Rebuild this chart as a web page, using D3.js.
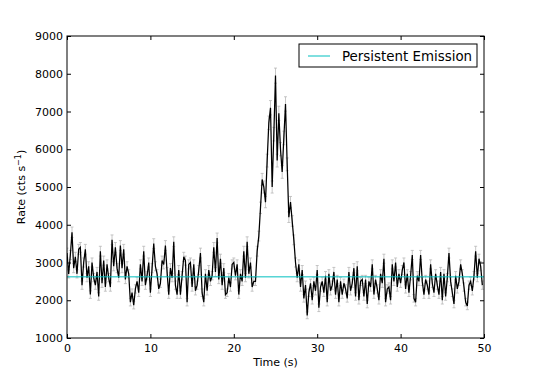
<!DOCTYPE html>
<html>
<head>
<meta charset="utf-8">
<script src="https://cdn.jsdelivr.net/npm/d3@7"></script>
<style>
  body { margin: 0; background: #fff; }
  text { font-family: "DejaVu Sans", sans-serif; fill: #000; }
</style>
</head>
<body>
<svg id="chart" width="538" height="377"></svg>
<script>
// light curve, 0.2 s bins
var timeBin = 0.2;
var rates = [
  3250, 2700, 3200, 3800, 2850, 3150, 2700, 3350, 3400, 2400,
  3000, 3350, 2600, 2900, 2150, 3000, 2600, 2400, 2750, 2100,
  3300, 2450, 3050, 2350, 2950, 2600, 2350, 3600, 2900, 3400,
  2850, 2600, 3450, 2850, 3350, 2550, 2900, 2700, 1950, 2200,
  1870, 2300, 2500, 2200, 2950, 2500, 3300, 2400, 2650, 3000,
  2200, 2850, 3500, 2900, 2700, 2300, 2450, 3050, 2950, 3450,
  2750, 2150, 2850, 2600, 3550, 2400, 2150, 2800, 2150, 2650,
  3150, 3050, 1950, 2950, 3000, 2350, 2950, 2250, 2400, 2800,
  3250, 2200, 1950, 2700, 2250, 2800, 2500, 2650, 3400, 2750,
  3650, 2550, 3100, 2400, 2850, 2150, 2200, 2600, 2350, 2950,
  3000, 2650, 2950, 2150, 2700, 2500, 3300, 2600, 3550, 2700,
  3000, 2350, 2500, 2500, 3300, 3700, 4450, 5200, 5000, 4600,
  5700, 6700, 7100, 5000, 6400, 7950, 5700, 6950, 6000, 5400,
  6300, 7200, 5600, 4200, 4600, 4100, 3600, 3000, 2600, 2950,
  2350, 2800, 2050, 2400, 1600, 2200, 2450, 2000, 2500, 2250,
  2800, 1800, 2350, 2500, 2200, 2650, 1950, 2700, 2250, 2400,
  2750, 2150, 2550, 1950, 2500, 2150, 2450, 2300, 2050, 2750,
  2250, 2450, 2850, 2100, 2900, 2000, 2500, 2550, 2100, 2550,
  1900, 2500, 2350, 2950, 2150, 2550, 2300, 2000, 2700, 2450,
  3100, 1950, 2300, 2350, 2000, 2950, 2500, 3000, 2350, 2700,
  2450, 2800, 3000, 2300, 2700, 2200, 2650, 3200, 2050, 1950,
  2650, 2500, 3200, 2500, 2150, 2550, 2400, 2150, 2950, 2450,
  2200, 2700, 2400, 2150, 2750, 2000, 2700, 2100, 2600, 3250,
  2500, 2200, 1900, 2650, 2300, 2500, 2950, 2700, 2350, 1950,
  1850, 2400, 2500, 2250, 2650, 3300, 2600, 3100, 2900, 2400
];
var errors = [
  130, 110, 120, 140, 120, 120, 110, 130, 130, 110,
  120, 130, 110, 120, 100, 120, 110, 110, 120, 100,
  130, 110, 120, 110, 120, 110, 110, 130, 120, 130,
  120, 110, 130, 120, 130, 110, 120, 110, 100, 100,
  100, 110, 110, 100, 120, 110, 130, 110, 110, 120,
  100, 120, 130, 120, 110, 110, 110, 120, 120, 130,
  120, 100, 120, 110, 130, 110, 100, 120, 100, 110,
  120, 120, 100, 120, 120, 110, 120, 110, 110, 120,
  130, 100, 100, 110, 110, 120, 110, 110, 130, 120,
  130, 110, 120, 110, 120, 100, 100, 110, 110, 120,
  120, 110, 120, 100, 110, 110, 130, 110, 130, 110,
  120, 110, 110, 110, 130, 130, 150, 160, 160, 150,
  170, 180, 190, 160, 180, 200, 170, 190, 175, 170,
  180, 190, 170, 140, 150, 140, 130, 120, 110, 120,
  110, 120, 100, 110, 90, 100, 110, 100, 110, 110,
  120, 100, 110, 110, 100, 110, 100, 110, 110, 110,
  120, 100, 110, 100, 110, 100, 110, 110, 100, 120,
  110, 110, 120, 100, 120, 100, 110, 110, 100, 110,
  100, 110, 110, 120, 100, 110, 110, 100, 110, 110,
  120, 100, 110, 110, 100, 120, 110, 120, 110, 110,
  110, 120, 120, 110, 110, 100, 110, 120, 100, 100,
  110, 110, 120, 110, 100, 110, 110, 100, 120, 110,
  100, 110, 110, 100, 120, 100, 110, 100, 110, 130,
  110, 100, 100, 110, 110, 110, 120, 110, 110, 100,
  100, 110, 110, 110, 110, 130, 110, 120, 120, 110
];
var persistentRate = 2620;
var legendLabel = "Persistent Emission";
var xTicks = [0, 10, 20, 30, 40, 50];
var yTicks = [1000, 2000, 3000, 4000, 5000, 6000, 7000, 8000, 9000];

var data = rates.map(function(r, i) {
  return {t: i * timeBin, rate: r, err: errors[i]};
});

var margin = {top: 36, right: 54, bottom: 39, left: 67},
    width = 538 - margin.left - margin.right,
    height = 377 - margin.top - margin.bottom;

var svg = d3.select("#chart");
var g = svg.append("g")
  .attr("transform", "translate(" + margin.left + "," + margin.top + ")");

var x = d3.scaleLinear().domain([0, 50]).range([0, width]);
var y = d3.scaleLinear().domain([1000, 9000]).range([height, 0]);

// clip to the axes box
g.append("clipPath").attr("id", "clip")
  .append("rect").attr("width", width).attr("height", height);
var plot = g.append("g").attr("clip-path", "url(#clip)");

// error bars
var bars = plot.append("g").attr("class", "errbars")
  .attr("stroke", "#b8b8b8").attr("stroke-width", 0.8);
bars.selectAll("line.bar").data(data).enter().append("line")
  .attr("class", "bar")
  .attr("x1", function(d) { return x(d.t); })
  .attr("x2", function(d) { return x(d.t); })
  .attr("y1", function(d) { return y(d.rate - d.err); })
  .attr("y2", function(d) { return y(d.rate + d.err); });
[-1, 1].forEach(function(s) {
  bars.selectAll("line.cap" + (s > 0 ? "hi" : "lo")).data(data).enter().append("line")
    .attr("class", "cap" + (s > 0 ? "hi" : "lo"))
    .attr("x1", function(d) { return x(d.t) - 1.5; })
    .attr("x2", function(d) { return x(d.t) + 1.5; })
    .attr("y1", function(d) { return y(d.rate + s * d.err); })
    .attr("y2", function(d) { return y(d.rate + s * d.err); });
});

var line = d3.line()
  .x(function(d) { return x(d.t); })
  .y(function(d) { return y(d.rate); });

plot.append("path")
  .datum(data)
  .attr("d", line)
  .attr("fill", "none")
  .attr("stroke", "#000")
  .attr("stroke-width", 1.25);

plot.append("line")
  .attr("x1", 0).attr("x2", width)
  .attr("y1", y(persistentRate)).attr("y2", y(persistentRate))
  .attr("stroke", "#00bfbf").attr("stroke-width", 1);

// frame + inward ticks on all sides
g.append("rect").attr("width", width).attr("height", height)
  .attr("fill", "none").attr("stroke", "#000").attr("stroke-width", 1);

var tickLen = 4;
var xb = g.append("g").attr("transform", "translate(0," + height + ")")
  .call(d3.axisBottom(x).tickValues(xTicks).tickSize(-tickLen).tickPadding(6).tickFormat(d3.format("d")));
var xt = g.append("g")
  .call(d3.axisTop(x).tickValues(xTicks).tickSize(-tickLen).tickFormat(""));
var yl = g.append("g")
  .call(d3.axisLeft(y).tickValues(yTicks).tickSize(-tickLen).tickPadding(4).tickFormat(d3.format("d")));
var yr = g.append("g").attr("transform", "translate(" + width + ",0)")
  .call(d3.axisRight(y).tickValues(yTicks).tickSize(-tickLen).tickFormat(""));

[xb, xt, yl, yr].forEach(function(a) {
  a.select(".domain").remove();
  a.selectAll("line").attr("stroke", "#000");
  a.selectAll("text").attr("font-size", 11).attr("font-family", "DejaVu Sans").attr("fill", "#000");
});

// axis labels
g.append("text")
  .attr("x", width / 2).attr("y", height + 28)
  .attr("text-anchor", "middle").attr("font-size", 11)
  .text("Time (s)");

var ylab = g.append("text")
  .attr("transform", "translate(" + (-42) + "," + (height / 2) + ") rotate(-90)")
  .attr("text-anchor", "middle").attr("font-size", 11);
ylab.append("tspan").text("Rate (cts s");
ylab.append("tspan").attr("font-size", 8).attr("dy", -4).text("\u22121");
ylab.append("tspan").attr("dy", 4).text(")");

// legend
var leg = g.append("g").attr("transform", "translate(" + (299 - margin.left) + "," + (44 - margin.top) + ")");
leg.append("rect").attr("width", 178).attr("height", 23)
  .attr("fill", "#fff").attr("stroke", "#000").attr("stroke-width", 1);
leg.append("line").attr("x1", 9).attr("x2", 31).attr("y1", 12).attr("y2", 12)
  .attr("stroke", "#00bfbf").attr("stroke-width", 1);
leg.append("text").attr("x", 43).attr("y", 16.5).attr("font-size", 13.4)
  .text(legendLabel);
</script>
</body>
</html>
